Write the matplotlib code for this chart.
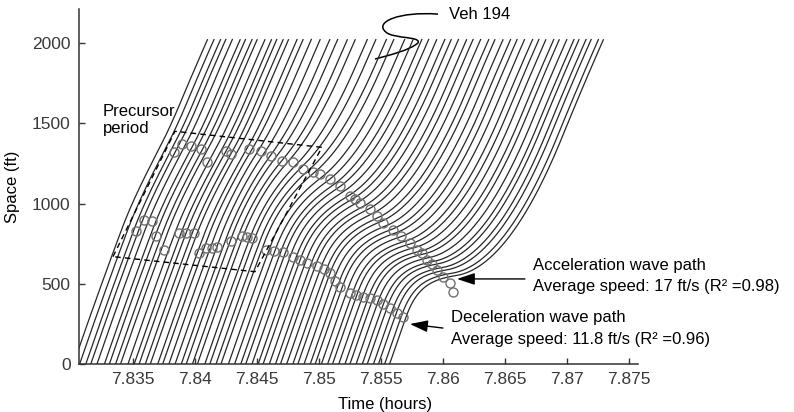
import numpy as np
import matplotlib
matplotlib.use("Agg")
import matplotlib.pyplot as plt
from matplotlib.path import Path
from matplotlib.patches import PathPatch

plt.rcParams['font.family'] = ['Liberation Sans', 'DejaVu Sans']

# --- vehicle entry times at the upstream end (hours) ---
entry_time = [7.8302, 7.8307, 7.8312, 7.8316, 7.8321, 7.8327, 7.8331, 7.8336,
              7.8340, 7.8346, 7.8351, 7.8355, 7.8360, 7.8364, 7.8370, 7.8374,
              7.8379, 7.8384, 7.8389, 7.8393, 7.8398, 7.8402, 7.8408, 7.8412,
              7.8417, 7.8421, 7.8427, 7.8432, 7.8437, 7.8441, 7.8446, 7.8451,
              7.8455, 7.8460, 7.8465, 7.8469, 7.8474, 7.8479, 7.8483, 7.8488,
              7.8493, 7.8497, 7.8502, 7.8507, 7.8511, 7.8516, 7.8521, 7.8525,
              7.8530, 7.8535, 7.8539, 7.8544, 7.8548, 7.8553, 7.8557]
section_end = 2020          # ft

# free-flow speed along the section (ft/s)
vfree_pos = [0, 700, 1400, 2100]
vfree_speed = [62, 58, 53, 48]

# deceleration / acceleration wave fronts (hours, ft)
decel_t = [7.8320, 7.8352, 7.8400, 7.8445, 7.8490, 7.8530, 7.8570, 7.8600]
decel_s = [850, 830, 790, 780, 640, 450, 290, 150]
accel_t = [7.8350, 7.8400, 7.8460, 7.8490, 7.8530, 7.8570, 7.8600, 7.8615, 7.8630, 7.8645, 7.8670]
accel_s = [1330, 1340, 1300, 1220, 1000, 760, 600, 530, 470, 420, 300]

# speed inside the disturbance (ft/s)
cong_t = [7.832, 7.843, 7.846, 7.849, 7.852, 7.855, 7.858, 7.861]
cong_v = [42, 37, 24, 15, 10, 6, 2.5, 1.5]

tau_brake = 4.0        # s, braking relaxation
accel_rate = 1.6       # ft/s^2, recovery after the acceleration wave

# circled wave points
accel_circ_t = [7.83831, 7.83895, 7.83965, 7.84046, 7.84097, 7.84248, 7.84288,
                7.84435, 7.84530, 7.84611, 7.84699, 7.84790, 7.84871, 7.84950,
                7.85008, 7.85089, 7.85169, 7.85250, 7.85290, 7.85331, 7.85411,
                7.85470, 7.85516, 7.85597, 7.85660, 7.85734, 7.85788, 7.85830,
                7.85869, 7.85910, 7.85949, 7.86000, 7.86056, 7.86081]
accel_circ_s = [1319, 1369, 1358, 1338, 1256, 1327, 1306, 1338, 1327, 1296,
                1264, 1256, 1213, 1195, 1181, 1150, 1108, 1046, 1025, 1006,
                963, 920, 881, 838, 800, 756, 713, 690, 650, 620, 588, 544,
                506, 450]
decel_circ_t = [7.83522, 7.83589, 7.83650, 7.83683, 7.83750, 7.83871, 7.83930,
                7.83992, 7.84032, 7.84090, 7.84137, 7.84180, 7.84288, 7.84381,
                7.84420, 7.84460, 7.84570, 7.84640, 7.84710, 7.84790, 7.84850,
                7.84901, 7.84981, 7.85040, 7.85089, 7.85130, 7.85169, 7.85250,
                7.85300, 7.85355, 7.85410, 7.85465, 7.85520, 7.85573, 7.85630,
                7.85677]
decel_circ_s = [827, 900, 890, 796, 713, 819, 815, 819, 694, 720, 725, 730,
                764, 796, 790, 788, 713, 705, 700, 669, 650, 631, 608, 590,
                569, 520, 481, 444, 430, 419, 410, 400, 375, 350, 320, 294]

# precursor period outline
box_t = [7.83339, 7.83839, 7.85024, 7.84484, 7.83339]
box_s = [669, 1450, 1350, 575, 669]

xticks = [7.835, 7.84, 7.845, 7.85, 7.855, 7.86, 7.865, 7.87, 7.875]
xtick_labels = ['7.835', '7.84', '7.845', '7.85', '7.855', '7.86', '7.865', '7.87', '7.875']
yticks = [0, 500, 1000, 1500, 2000]


def trajectory(t0, dt=0.05):
    """Step one vehicle through the section; returns (hours, ft)."""
    t = t0 * 3600.0
    s = 0.0
    v = vfree_speed[0]
    phase = 0
    ts, ss = [t], [s]
    while s < section_end:
        th = t / 3600.0
        if phase == 0 and s >= np.interp(th, decel_t, decel_s):
            phase = 1
        if phase == 1 and s >= np.interp(th, accel_t, accel_s):
            phase = 2
        vf = np.interp(s, vfree_pos, vfree_speed)
        if phase == 0:
            v += (vf - v) * dt
        elif phase == 1:
            v += (np.interp(th, cong_t, cong_v) - v) * dt / tau_brake
        else:
            v = min(v + accel_rate * dt, vf) if v < vf else vf
        s += v * dt
        t += dt
        ts.append(t)
        ss.append(s)
    return np.array(ts) / 3600.0, np.array(ss)


fig = plt.figure(figsize=(7.94, 4.12), dpi=100)
ax = fig.add_axes([0.0995, 0.1165, 0.704, 0.8617])

for t0 in entry_time:
    th, sh = trajectory(t0)
    ax.plot(th, sh, color='#262626', lw=0.9)

ax.plot(accel_circ_t, accel_circ_s, 'o', ms=6.5, mfc='none', mec='#707070', mew=1.0)
ax.plot(decel_circ_t, decel_circ_s, 'o', ms=6.5, mfc='none', mec='#707070', mew=1.0)

ax.plot(box_t, box_s, color='k', lw=1, ls=(0, (4, 3)))
ax.text(7.83258, 1520, 'Precursor\nperiod', fontsize=12, va='center', ha='left')

# vehicle label with leader curve
verts = [(7.85960, 2180), (7.85650, 2198), (7.85440, 2131), (7.85540, 2068),
         (7.85600, 2025), (7.85830, 2043), (7.85798, 2000),
         (7.85734, 1956), (7.85573, 1925), (7.85452, 1900)]
codes = [Path.MOVETO] + [Path.CURVE4] * 9
ax.add_patch(PathPatch(Path(verts, codes), fc='none', ec='k', lw=1.1))
ax.text(7.86048, 2180, 'Veh 194', fontsize=12, va='center', ha='left')

arrow = dict(arrowstyle='-|>,head_length=0.9,head_width=0.3', color='k', lw=1,
             mutation_scale=12, shrinkA=0, shrinkB=0)
ax.annotate('', xy=(7.86113, 530), xytext=(7.86661, 530), arrowprops=arrow)
ax.annotate('', xy=(7.85734, 249), xytext=(7.86000, 224), arrowprops=arrow)
ax.text(7.86726, 611, 'Acceleration wave path', fontsize=12, va='center')
ax.text(7.86726, 480, 'Average speed: 17 ft/s (R² =0.98)', fontsize=12, va='center')
ax.text(7.86065, 287, 'Deceleration wave path', fontsize=12, va='center')
ax.text(7.86065, 150, 'Average speed: 11.8 ft/s (R² =0.96)', fontsize=12, va='center')

ax.set_xlim(7.83065, 7.87573)
ax.set_ylim(0, 2212)
ax.set_xticks(xticks)
ax.set_xticklabels(xtick_labels)
ax.set_yticks(yticks)
ax.tick_params(direction='in', length=4, width=1, labelsize=12.5,
               labelcolor='#3a3a3a', color='#333333', pad=6)
for side in ('top', 'right'):
    ax.spines[side].set_visible(False)
for side in ('left', 'bottom'):
    ax.spines[side].set_color('#333333')
    ax.spines[side].set_linewidth(1.1)

ax.set_ylabel('Space (ft)', fontsize=12)
ax.yaxis.set_label_coords(-0.105, 0.5)
ax.set_xlabel('Time (hours)', fontsize=12)
ax.xaxis.set_label_coords(0.547, -0.093)

fig.savefig('out.png', dpi=100)
